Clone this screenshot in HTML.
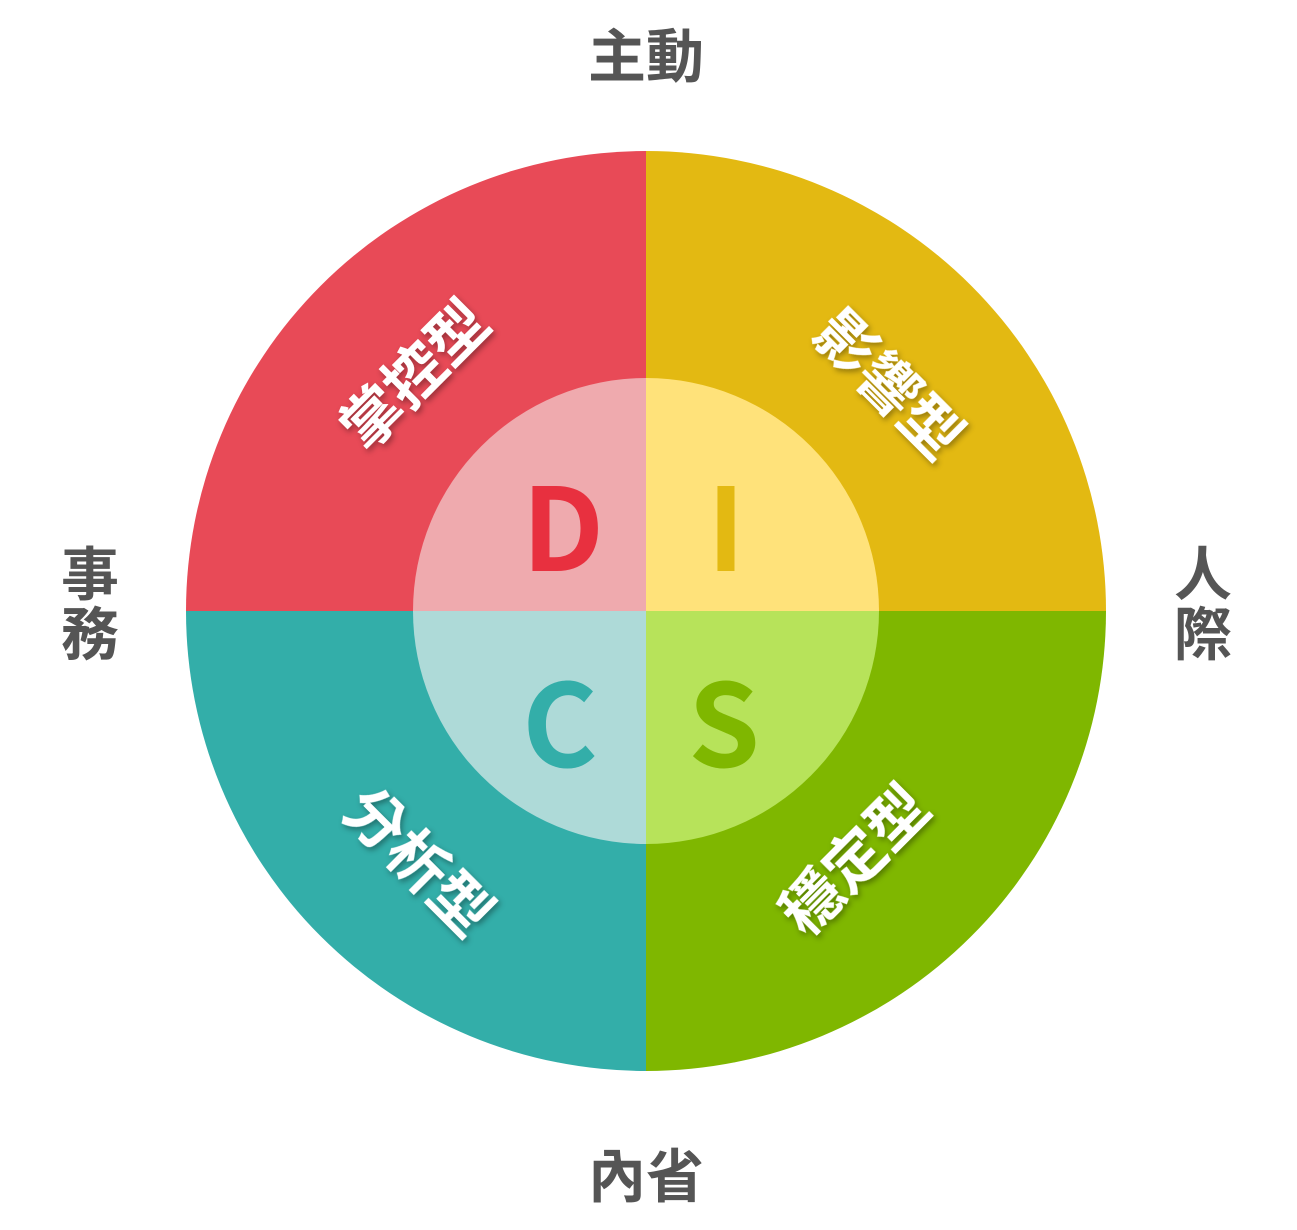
<!DOCTYPE html>
<html><head><meta charset="utf-8"><style>
html,body{margin:0;padding:0;background:#fff;}
svg{display:block;}
text{font-family:"Liberation Sans","Noto Sans CJK TC",sans-serif;font-weight:bold;}
.L{font-family:"Noto Sans CJK TC",sans-serif;}
</style></head><body>
<svg width="1297" height="1230" viewBox="0 0 1297 1230" xmlns="http://www.w3.org/2000/svg">
<defs>
<filter id="sh" x="-20%" y="-20%" width="140%" height="140%"><feDropShadow dx="2" dy="3" stdDeviation="3" flood-color="#000" flood-opacity="0.35"/></filter>
</defs>
<g transform="translate(646,611)">
<path d="M0,0 L0,-460 A460,460 0 0 0 -460,0 Z" fill="#E84A57"/>
<path d="M0,0 L0,-460 A460,460 0 0 1 460,0 Z" fill="#E3B912"/>
<path d="M0,0 L-460,0 A460,460 0 0 0 0,460 Z" fill="#33AEA9"/>
<path d="M0,0 L460,0 A460,460 0 0 1 0,460 Z" fill="#7FB700"/>
<path d="M0,0 L0,-233 A233,233 0 0 0 -233,0 Z" fill="#EFAAAE"/>
<path d="M0,0 L0,-233 A233,233 0 0 1 233,0 Z" fill="#FFE27A"/>
<path d="M0,0 L-233,0 A233,233 0 0 0 0,233 Z" fill="#AEDAD8"/>
<path d="M0,0 L233,0 A233,233 0 0 1 0,233 Z" fill="#B7E35A"/>
</g>
<g font-size="115" text-anchor="middle" class="L">
<text class="L" x="563" y="571" fill="#E8303F">D</text>
<text class="L" x="726" y="571" fill="#E3B912">I</text>
<text class="L" x="560" y="767" fill="#33AEA9">C</text>
<text class="L" x="724" y="767" fill="#7FB700">S</text>
</g>
<g font-size="60" fill="#fff" text-anchor="middle" filter="url(#sh)">
<text transform="translate(415,375) rotate(-45)" y="21">掌控型</text>
<text transform="translate(888,385) rotate(45)" y="21">影響型</text>
<text transform="translate(418,862) rotate(45)" y="21">分析型</text>
<text transform="translate(855,860) rotate(-45)" y="21">穩定型</text>
</g>
<g font-size="58" fill="#555" text-anchor="middle">
<text x="646" y="77">主動</text>
<text x="646" y="1197">內省</text>
<text x="90" y="595">事</text>
<text x="90" y="655">務</text>
<text x="1203" y="595">人</text>
<text x="1203" y="655">際</text>
</g>
</svg>
</body></html>
